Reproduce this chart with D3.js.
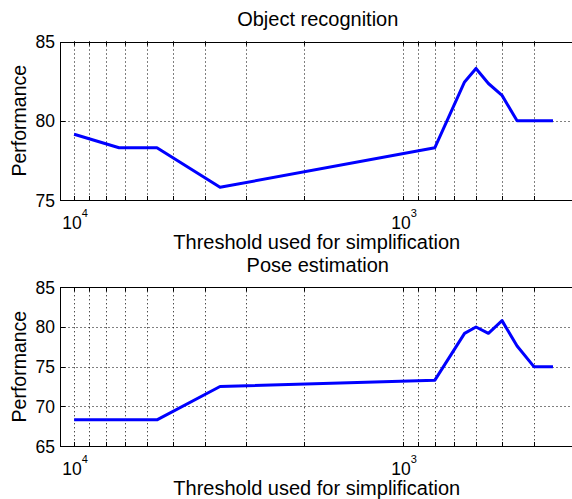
<!DOCTYPE html>
<html>
<head>
<meta charset="utf-8">
<script src="https://cdn.jsdelivr.net/npm/d3@7"></script>
<style>
	body { margin: 0; background: #fff; }
	text { font-family: "Liberation Sans", Arial, Helvetica, sans-serif; fill: #000; }
</style>
</head>
<body>
<div class="chart"></div>
<script>
const width = 572,
	height = 499;

// simplification thresholds (x, log scale, reversed)
const thresholds = [10000, 7300, 5600, 3600, 800, 650, 600, 550, 500, 450, 400, 350];

const objectPerf = [79.15, 78.3, 78.3, 75.8, 78.3, 82.45, 83.3, 82.35, 81.6, 80, 80, 80];
const posePerf = [68.3, 68.3, 68.3, 72.5, 73.3, 79.2, 80, 79.2, 80.8, 77.6, 75, 75];

const objectTicks = [75, 80, 85];
const poseTicks = [65, 70, 75, 80, 85];

const titles = ["Object recognition", "Pose estimation"];
const xLabel = "Threshold used for simplification";
const yLabel = "Performance";

const left = 60.5,
	right = 575;

const x = d3.scaleLog().domain([11000, 300]).range([left, right]);

const svg = d3
	.select(".chart")
	.append("svg")
	.attr("width", width)
	.attr("height", height);

const drawPanel = (panel) => {
	const y = d3.scaleLinear().domain(panel.domain).range([panel.bottom, panel.top]);
	const g = svg.append("g");

	// vertical dotted grid at every log tick
	const xTicks = x.ticks().filter((d) => x(d) > left + 1 && x(d) < width);
	g.append("g")
		.attr("stroke", "#000")
		.attr("stroke-width", 1)
		.attr("stroke-dasharray", "1,3")
		.selectAll("line")
		.data(xTicks)
		.join("line")
		.attr("x1", (d) => Math.round(x(d)) + 0.5)
		.attr("x2", (d) => Math.round(x(d)) + 0.5)
		.attr("y1", panel.top)
		.attr("y2", panel.bottom);

	// horizontal dotted grid
	g.append("g")
		.attr("stroke", "#000")
		.attr("stroke-width", 1)
		.attr("stroke-dasharray", "1,3")
		.selectAll("line")
		.data(panel.ticks.slice(1, -1))
		.join("line")
		.attr("x1", left)
		.attr("x2", right)
		.attr("y1", (d) => Math.round(y(d)) + 0.5)
		.attr("y2", (d) => Math.round(y(d)) + 0.5);

	// inner tick marks, top and bottom
	const tickG = g.append("g").attr("stroke", "#000").attr("stroke-width", 1);
	tickG
		.selectAll(".tb")
		.data(xTicks)
		.join("line")
		.attr("class", "tb")
		.attr("x1", (d) => Math.round(x(d)) + 0.5)
		.attr("x2", (d) => Math.round(x(d)) + 0.5)
		.attr("y1", panel.bottom)
		.attr("y2", panel.bottom - 4);
	tickG
		.selectAll(".tt")
		.data(xTicks)
		.join("line")
		.attr("class", "tt")
		.attr("x1", (d) => Math.round(x(d)) + 0.5)
		.attr("x2", (d) => Math.round(x(d)) + 0.5)
		.attr("y1", panel.top)
		.attr("y2", panel.top + 4);
	tickG
		.selectAll(".ty")
		.data(panel.ticks)
		.join("line")
		.attr("class", "ty")
		.attr("x1", left)
		.attr("x2", left + 5)
		.attr("y1", (d) => Math.round(y(d)) + 0.5)
		.attr("y2", (d) => Math.round(y(d)) + 0.5);

	// frame
	g.append("rect")
		.attr("x", left)
		.attr("y", Math.round(panel.top) + 0.5)
		.attr("width", right - left)
		.attr("height", Math.round(panel.bottom) - Math.round(panel.top))
		.attr("fill", "none")
		.attr("stroke", "#000")
		.attr("stroke-width", 1);

	// data line
	const line = d3
		.line()
		.x((d, i) => x(thresholds[i]))
		.y((d) => y(d));

	g.append("path")
		.datum(panel.values)
		.attr("fill", "none")
		.attr("stroke", "#0000ff")
		.attr("stroke-width", 3)
		.attr("stroke-linejoin", "round")
		.attr("d", line);

	// y tick labels
	g.append("g")
		.selectAll("text")
		.data(panel.ticks)
		.join("text")
		.attr("x", left - 5.5)
		.attr("y", (d) => y(d) + 6.5)
		.attr("text-anchor", "end")
		.attr("font-size", 17.5)
		.text((d) => d);

	// x tick labels, powers of ten only
	const decades = xTicks.filter((d) => Number.isInteger(Math.log10(d)));
	const xText = g
		.append("g")
		.selectAll("text")
		.data(decades)
		.join("text")
		.attr("x", (d) => x(d) + 1)
		.attr("y", panel.bottom + 28.5)
		.attr("text-anchor", "middle")
		.attr("font-size", 17.5);
	xText.append("tspan").text("10");
	xText
		.append("tspan")
		.attr("dy", -12)
		.attr("font-size", 11)
		.text((d) => Math.round(Math.log10(d)));

	// labels
	g.append("text")
		.attr("x", (left + right) / 2 - 1)
		.attr("y", panel.bottom + 49)
		.attr("text-anchor", "middle")
		.attr("font-size", 20)
		.text(xLabel);

	g.append("text")
		.attr("x", (left + right) / 2)
		.attr("y", panel.top - 15.5)
		.attr("text-anchor", "middle")
		.attr("font-size", 20)
		.text(panel.title);

	g.append("text")
		.attr(
			"transform",
			`translate(25.5,${(panel.top + panel.bottom) / 2}) rotate(-90)`
		)
		.attr("text-anchor", "middle")
		.attr("font-size", 19.5)
		.text(yLabel);
};

drawPanel({
	title: titles[0],
	values: objectPerf,
	domain: [75, 85],
	ticks: objectTicks,
	top: 41.5,
	bottom: 200,
});

drawPanel({
	title: titles[1],
	values: posePerf,
	domain: [65, 85],
	ticks: poseTicks,
	top: 287.3,
	bottom: 446,
});
</script>
</body>
</html>
